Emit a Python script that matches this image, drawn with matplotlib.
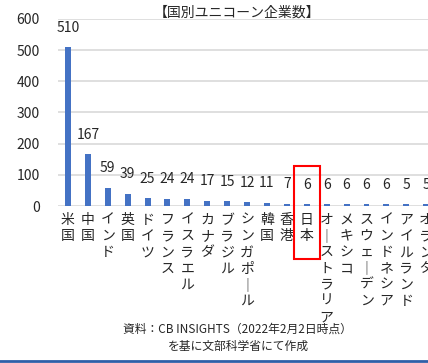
import matplotlib
matplotlib.use("Agg")
import matplotlib.pyplot as plt
from matplotlib.patches import Rectangle

plt.rcParams["font.family"] = ["Noto Sans CJK JP", "DejaVu Sans"]

# データ（CB INSIGHTS 2022年2月2日時点）
countries = [
    "米国", "中国", "インド", "英国", "ドイツ", "フランス", "イスラエル",
    "カナダ", "ブラジル", "シンガポール", "韓国", "香港", "日本",
    "オーストラリア", "メキシコ", "スウェーデン", "インドネシア",
    "アイルランド", "オランダ",
]
counts = [510, 167, 59, 39, 25, 24, 24, 17, 15, 12, 11, 7, 6, 6, 6, 6, 6, 5, 5]
y_ticks = [0, 100, 200, 300, 400, 500, 600]
highlight = "日本"

BAR = "#4472C4"
GRID = "#D9D9D9"
TXT = "#262626"


def vertical(s):
    # 縦書き: 長音は縦棒に置き換える
    return "\n".join("｜" if c == "ー" else c for c in s)


W, H = 428, 363
fig = plt.figure(figsize=(W / 100, H / 100), dpi=100)
ax = fig.add_axes([58 / W, 157 / H, 370 / W, 187 / H])

x = list(range(len(countries)))
ax.bar(x, counts, width=0.3, color=BAR, zorder=3)

for xi, v in zip(x, counts):
    ax.annotate(str(v), (xi, v), xytext=(0, 14), textcoords="offset points",
                ha="center", va="center", fontsize=10, color=TXT)

ax.set_ylim(0, 600)
ax.set_xlim(-0.5, 18.09)  # 右端のオランダは画面外で切れる
ax.set_yticks(y_ticks)
ax.set_yticklabels([str(t) for t in y_ticks], fontsize=10, color=TXT)
ax.set_xticks(x)
ax.set_xticklabels([vertical(c) for c in countries], fontsize=10,
                   color=TXT, va="top", linespacing=1.2)
ax.tick_params(length=0, axis="y", pad=13)
ax.tick_params(length=0, axis="x", pad=5)
ax.grid(axis="y", color=GRID, linewidth=1.2, zorder=0)
for sp in ax.spines.values():
    sp.set_visible(False)

# 日本を赤枠で強調
i = countries.index(highlight)
ax.add_patch(Rectangle((i - 0.65, -170), 1.3, 298, fill=False,
                       edgecolor="#FF0000", linewidth=1.5,
                       clip_on=False, zorder=5))

fig.text(237 / W, 1 - 13 / H, "【国別ユニコーン企業数】", ha="center",
         va="center", fontsize=10, color=TXT)
fig.text(237 / W, 1 - 329 / H, "資料：CB INSIGHTS（2022年2月2日時点）",
         ha="center", va="center", fontsize=8.5, color=TXT)
fig.text(238 / W, 1 - 346 / H, "を基に文部科学省にて作成",
         ha="center", va="center", fontsize=8.5, color=TXT)

# 下端の青線
fig.add_artist(plt.Line2D([0, 1], [1 - 360.5 / H] * 2, color="#2F5FA8",
                          linewidth=2, transform=fig.transFigure))

fig.savefig("out.png", dpi=100)
